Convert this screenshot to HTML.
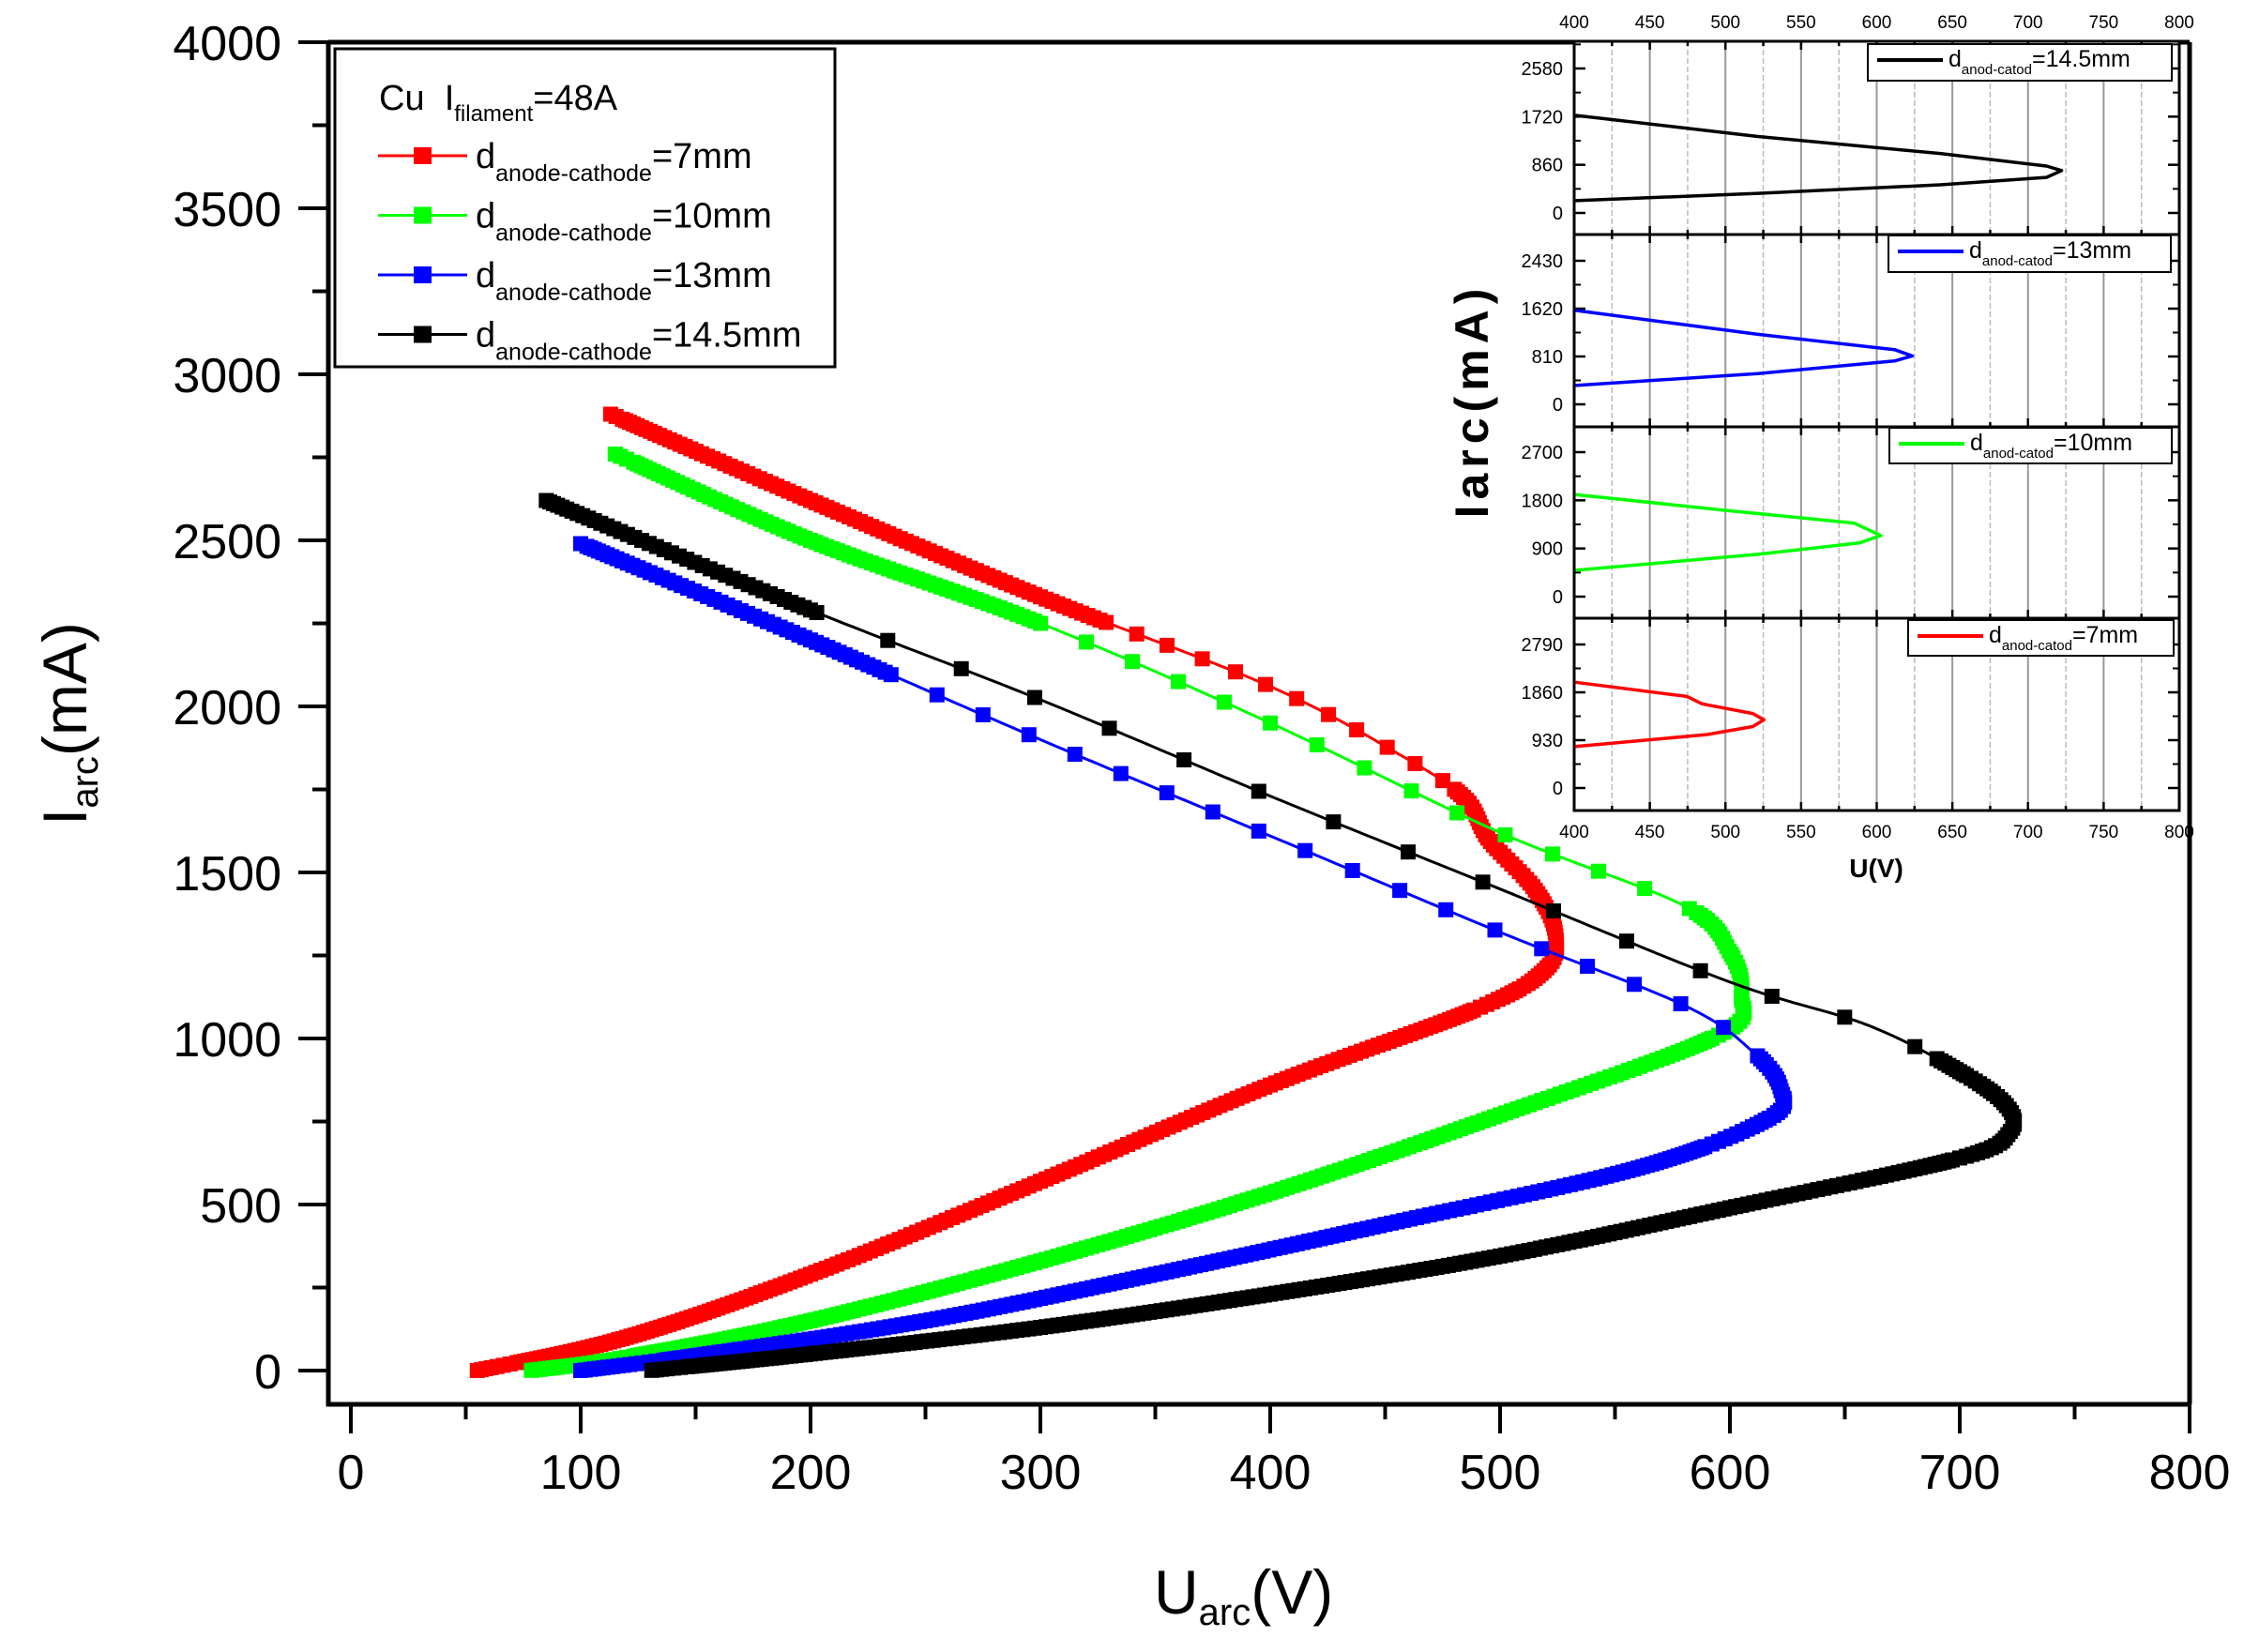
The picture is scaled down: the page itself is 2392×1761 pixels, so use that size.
<!DOCTYPE html>
<html><head><meta charset="utf-8">
<style>html,body{margin:0;padding:0;background:#fff}svg{display:block}text{font-family:"Liberation Sans",Arial,sans-serif}</style>
</head><body>
<svg id="s" width="2392" height="1761" viewBox="0 0 2392 1761" xmlns="http://www.w3.org/2000/svg">
<rect width="2392" height="1761" fill="#fff"/>
<g id="g"></g>
</svg>
<script>
const NS="http://www.w3.org/2000/svg";const G=document.getElementById('g');
function el(t,a,txt){const e=document.createElementNS(NS,t);for(const k in a)e.setAttribute(k,a[k]);if(txt!==undefined)e.textContent=txt;G.appendChild(e);return e;}
const X=u=>374+2.45*u, Y=i=>1461-0.354*i;
el('line',{x1:350,y1:45,x2:2334,y2:45,stroke:'#000','stroke-width':5});
el('line',{x1:2334,y1:45,x2:2334,y2:1497,stroke:'#000','stroke-width':5});
el('line',{x1:350,y1:43,x2:350,y2:1499,stroke:'#000','stroke-width':5});
el('line',{x1:348,y1:1497,x2:2336,y2:1497,stroke:'#000','stroke-width':5});
for(let i=0;i<=4000;i+=250){const y=Y(i);const maj=i%500==0;el('line',{x1:maj?318:333,y1:y,x2:350,y2:y,stroke:'#000','stroke-width':4});
 if(maj)el('text',{x:300,y:y+19,'font-size':52,'text-anchor':'end'},i);}
for(let u=0;u<=800;u+=50){const x=X(u);const maj=u%100==0;el('line',{x1:x,y1:1497,x2:x,y2:maj?1528:1513,stroke:'#000','stroke-width':4});
 if(maj)el('text',{x:x,y:1587,'font-size':52,'text-anchor':'middle'},u);}
let t=el('text',{x:0,y:0,'font-size':66,transform:'translate(92,880) rotate(-90)'});
t.innerHTML='I<tspan font-size="40" dy="12">arc</tspan><tspan dy="-12">(mA)</tspan>';
t=el('text',{x:1230,y:1720,'font-size':66});
t.innerHTML='U<tspan font-size="40" dy="12">arc</tspan><tspan dy="-12">(V)</tspan>';
function cr(pts,n){const out=[];for(let k=0;k<pts.length-1;k++){const p0=pts[Math.max(k-1,0)],p1=pts[k],p2=pts[k+1],p3=pts[Math.min(k+2,pts.length-1)];
 for(let j=0;j<n;j++){const s=j/n,s2=s*s,s3=s2*s;const f=(a,b,c,d)=>0.5*(2*b+(-a+c)*s+(2*a-5*b+4*c-d)*s2+(-a+3*b-3*c+d)*s3);out.push([f(p0[0],p1[0],p2[0],p3[0]),f(p0[1],p1[1],p2[1],p3[1]),k]);}}
 const l=pts[pts.length-1];out.push([l[0],l[1],pts.length-1]);return out;}
const series=[
 {c:'#ff0000',sp:[330,480],gap:34,d:[[113,2880],[200,2620],[300,2330],[400,2060],[460,1840],[485,1720],[495,1600],[515,1450],[524,1320],[520,1210],[490,1090],[400,860],[300,570],[200,290],[120,100],[55,0]],nose:10},
 {c:'#00ff00',sp:[300,585],gap:52,d:[[115,2760],[200,2500],[300,2250],[400,1950],[500,1620],[580,1400],[600,1260],[605,1130],[595,1010],[500,770],[400,535],[300,330],[200,150],[120,40],[78,0]],nose:7},
 {c:'#0000ff',sp:[235,612],gap:52,d:[[100,2490],[200,2200],[300,1900],[400,1610],[500,1320],[580,1100],[610,960],[622,850],[617,760],[560,610],[450,440],[350,290],[250,150],[150,45],[100,0]],nose:7},
 {c:'#000000',sp:[205,690],gap:80,d:[[85,2620],[200,2290],[300,2020],[400,1730],[500,1450],[600,1170],[660,1040],[700,900],[720,800],[722,720],[700,640],[600,490],[500,345],[400,230],[300,130],[200,50],[130,0]],nose:9}
];
series.forEach(S=>{const P=S.d.map(p=>[X(p[0]),Y(p[1])]);const pts=cr(P,40);
 el('polyline',{points:pts.map(p=>p[0].toFixed(1)+','+p[1].toFixed(1)).join(' '),fill:'none',stroke:S.c,'stroke-width':3});
 let acc=1e9,last=null;let out='';
 pts.forEach((p)=>{if(last){acc+=Math.hypot(p[0]-last[0],p[1]-last[1]);}last=p;
  const u=(p[0]-374)/2.45;const sparse=p[2]<S.nose&&u>S.sp[0]&&u<S.sp[1];const gap=sparse?S.gap:4;
  if(acc>=gap){acc=0;out+=`<rect x="${(p[0]-8).toFixed(1)}" y="${(p[1]-8).toFixed(1)}" width="16" height="16" fill="${S.c}"/>`;}});
 const g=document.createElementNS(NS,'g');g.innerHTML=out;G.appendChild(g);});
el('rect',{x:357,y:52,width:533,height:339,fill:'#fff',stroke:'#000','stroke-width':3});
t=el('text',{x:404,y:117,'font-size':38});t.innerHTML='Cu&#160;&#160;I<tspan font-size="24" dy="12">filament</tspan><tspan dy="-12">=48A</tspan>';
[['#ff0000','=7mm'],['#00ff00','=10mm'],['#0000ff','=13mm'],['#000000','=14.5mm']].forEach((r,k)=>{const y=166+k*63.5;
 el('line',{x1:403,y1:y,x2:498,y2:y,stroke:r[0],'stroke-width':3});el('rect',{x:441,y:y-9,width:19,height:18,fill:r[0]});
 const tt=el('text',{x:507,y:y+13,'font-size':38});tt.innerHTML='d<tspan font-size="25" dy="14">anode-cathode</tspan><tspan dy="-14">=</tspan>'+r[1].slice(1);});
const IX=u=>1678+(2323-1678)*(u-400)/400;
const panels=[{t:44,b:250,z:227,s:(227-73)/2580,ticks:[0,860,1720,2580],c:'#000000',lab:'=14.5mm',lb:[1991,47,2315,86],
 cv:[[240,203],[600,240],[960,270],[1170,292],[1200,300],[1170,312],[960,325],[600,340],[240,353]]},
 {t:250,b:455,z:431,s:(431-278)/2430,ticks:[0,810,1620,2430],c:'#0000ff',lab:'=13mm',lb:[2013,251,2314,290],
 cv:[[240,546],[600,588],[870,615],[905,626],[870,635],[600,657],[240,678]]},
 {t:455,b:659,z:636,s:(636-482)/2700,ticks:[0,900,1800,2700],c:'#00ff00',lab:'=10mm',lb:[2014,456,2315,494],
 cv:[[240,870],[540,898],[790,920],[843,942],[800,955],[600,975],[240,1003]]},
 {t:659,b:864,z:840,s:(840-687)/2790,ticks:[0,930,1860,2790],c:'#ff0000',lab:'=7mm',lb:[2034,661,2317,699],
 cv:[[240,1200],[460,1225],[490,1238],[590,1255],[612,1266],[590,1278],[500,1292],[240,1313]]}];
el('rect',{x:1678,y:44,width:645,height:820,fill:'#fff'});
for(let u=425;u<800;u+=25){const x=IX(u);el('line',{x1:x,y1:44,x2:x,y2:864,stroke:u%50==0?'#999':'#bbb','stroke-width':u%50==0?2:1.5,'stroke-dasharray':u%50==0?'none':'6,3'});}
panels.forEach(p=>{
 el('rect',{x:1678,y:p.t,width:645,height:p.b-p.t,fill:'none',stroke:'#000','stroke-width':3});
 for(let k=0;k<p.ticks.length;k++){const v=p.ticks[k];const y=p.z-v*p.s;
  el('line',{x1:1678,y1:y,x2:1690,y2:y,stroke:'#000','stroke-width':2.5});el('line',{x1:2311,y1:y,x2:2323,y2:y,stroke:'#000','stroke-width':2.5});
  const ym=p.z-(v+p.ticks[1]/2)*p.s;if(ym>p.t+3){el('line',{x1:1678,y1:ym,x2:1685,y2:ym,stroke:'#000','stroke-width':2});el('line',{x1:2316,y1:ym,x2:2323,y2:ym,stroke:'#000','stroke-width':2});}
  el('text',{x:1666,y:y+7,'font-size':20,'text-anchor':'end'},v);}
 for(let u=400;u<=800;u+=25){const x=IX(u);const L=u%50==0?9:5;el('line',{x1:x,y1:p.t,x2:x,y2:p.t+L,stroke:'#000','stroke-width':2.5});el('line',{x1:x,y1:p.b,x2:x,y2:p.b-L,stroke:'#000','stroke-width':2.5});}
 el('polyline',{points:p.cv.map(q=>(q[0]/1.853+1550).toFixed(1)+','+(q[1]/1.65).toFixed(1)).join(' '),fill:'none',stroke:p.c,'stroke-width':3.5,'stroke-linejoin':'round'});
 const b=p.lb;el('rect',{x:b[0],y:b[1],width:b[2]-b[0],height:b[3]-b[1],fill:'#fff',stroke:'#000','stroke-width':2});
 el('line',{x1:b[0]+10,y1:b[1]+17,x2:b[0]+80,y2:b[1]+17,stroke:p.c,'stroke-width':4});
 const tt=el('text',{x:b[0]+86,y:b[1]+24,'font-size':25});tt.innerHTML='d<tspan font-size="15" dy="8">anod-catod</tspan><tspan dy="-8">'+p.lab+'</tspan>';
});
el('rect',{x:1678,y:44,width:645,height:820,fill:'none',stroke:'#000','stroke-width':3});
for(let u=400;u<=800;u+=50){el('text',{x:IX(u),y:30,'font-size':19,'text-anchor':'middle'},u);el('text',{x:IX(u),y:893,'font-size':19,'text-anchor':'middle'},u);}
el('text',{x:2000,y:935,'font-size':28,'font-weight':'bold','text-anchor':'middle'},'U(V)');
t=el('text',{x:0,y:0,'font-size':50,'font-weight':'bold','letter-spacing':6,'text-anchor':'middle',transform:'translate(1586,427) rotate(-90)'});
t.textContent='Iarc(mA)';
</script>
</body></html>
